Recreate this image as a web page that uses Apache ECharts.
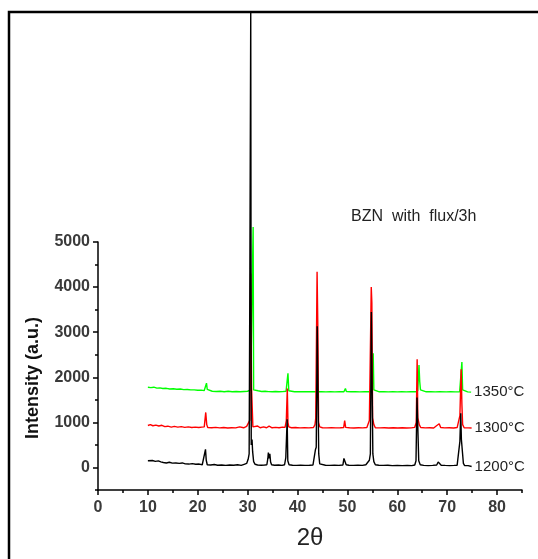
<!DOCTYPE html>
<html>
<head>
<meta charset="utf-8">
<title>BZN XRD</title>
<script src="https://cdn.jsdelivr.net/npm/echarts@6/dist/echarts.min.js"></script>
<style>
  html, body { margin: 0; padding: 0; background: #fff; }
  #chart { width: 538px; height: 559px; }
</style>
</head>
<body>
<div id="chart"></div>
<script>
// XRD patterns, [2theta, intensity]
const xrd1200 = [
  [10.0,150],[10.4,140],[10.9,155],[11.5,135],[12.1,145],[12.6,125],[13.1,110],[13.7,100],[14.3,115],[14.9,95],
  [15.6,100],[16.3,90],[16.9,100],[17.5,80],[18.2,75],[18.9,85],[19.6,70],[20.3,75],[20.9,60],[21.3,90],
  [21.55,400],[21.7,160],[21.9,60],[22.6,55],[23.3,65],[24.0,50],[24.8,55],[25.6,45],[26.4,55],[27.2,50],
  [28.0,60],[28.7,45],[29.3,70],[29.8,90],[30.1,180],[30.3,300],[30.45,4400],[30.62,10100],[30.72,500],[30.88,620],
  [31.0,350],[31.2,130],[31.5,70],[32.0,55],[32.7,50],[33.4,55],[33.85,60],[34.05,200],[34.15,330],[34.3,200],
  [34.45,300],[34.6,120],[34.8,60],[35.4,50],[36.2,55],[36.9,45],[37.4,60],[37.65,220],[37.8,230],[37.92,1070],
  [38.05,150],[38.3,60],[39.0,50],[39.8,45],[40.6,50],[41.5,45],[42.4,50],[43.1,55],[43.4,90],[43.6,400],
  [43.75,450],[43.95,3130],[44.12,3130],[44.25,300],[44.45,80],[44.8,55],[45.6,50],[46.5,45],[47.4,50],[48.3,45],
  [49.1,55],[49.3,200],[49.6,200],[49.75,60],[50.3,50],[51.2,45],[52.1,50],[53.0,45],[53.7,60],[54.1,100],
  [54.4,160],[54.6,300],[54.8,3450],[54.95,3450],[55.1,300],[55.3,130],[55.6,60],[56.3,50],[57.2,45],[58.1,50],
  [59.0,40],[60.0,45],[61.0,40],[62.0,45],[62.9,40],[63.5,55],[63.75,150],[63.95,1550],[64.12,1550],[64.3,150],
  [64.6,60],[65.3,45],[66.2,40],[67.1,45],[67.9,55],[68.2,120],[68.6,120],[68.8,50],[69.6,45],[70.5,40],
  [71.4,45],[72.0,50],[72.3,90],[72.55,580],[72.72,1200],[72.85,620],[73.1,620],[73.25,90],[73.5,40],[74.2,40],
  [74.9,20]
];
const xrd1300 = [
  [10.0,930],[10.5,950],[11.0,925],[11.6,940],[12.2,920],[12.8,935],[13.4,905],[14.0,915],[14.7,895],[15.3,910],
  [16.0,895],[16.7,905],[17.4,890],[18.1,900],[18.8,885],[19.5,895],[20.2,885],[20.8,895],[21.3,900],[21.6,1220],
  [21.8,950],[22.0,885],[22.8,880],[23.6,890],[24.4,878],[25.2,885],[26.0,875],[26.8,882],[27.6,878],[28.4,900],
  [29.2,880],[29.8,910],[30.2,950],[30.45,1050],[30.6,4300],[30.78,1780],[30.95,1780],[31.05,900],[31.4,885],[32.0,920],
  [32.5,880],[33.2,900],[33.8,880],[34.3,915],[34.9,880],[35.6,890],[36.3,880],[37.0,895],[37.5,890],[37.75,1040],
  [37.95,1750],[38.08,1000],[38.25,900],[38.8,880],[39.6,885],[40.5,878],[41.4,882],[42.3,878],[43.2,885],[43.5,950],
  [43.65,1090],[43.92,4340],[44.08,3030],[44.22,1000],[44.45,900],[45.0,880],[45.9,878],[46.8,882],[47.7,878],[48.6,880],
  [49.25,885],[49.45,1040],[49.65,890],[50.4,880],[51.3,876],[52.2,880],[53.1,878],[53.9,885],[54.2,920],[54.4,1040],
  [54.6,1000],[54.78,4000],[54.9,3650],[55.05,1100],[55.3,950],[55.6,880],[56.5,878],[57.4,880],[58.3,876],[59.2,880],
  [60.1,876],[61.0,880],[61.9,876],[62.8,878],[63.5,890],[63.8,1000],[63.98,2400],[64.12,1100],[64.4,950],[64.7,885],
  [65.6,878],[66.5,880],[67.3,876],[67.8,920],[68.1,900],[68.4,970],[68.7,885],[69.5,878],[70.4,880],[71.3,876],
  [72.0,885],[72.3,900],[72.55,1150],[72.8,2180],[72.95,1400],[73.1,950],[73.4,880],[74.2,878],[74.9,875]
];
const xrd1350 = [
  [10.0,1778],[10.6,1770],[11.2,1780],[11.8,1760],[12.4,1765],[13.0,1750],[13.7,1755],[14.4,1740],[15.1,1745],[15.8,1735],
  [16.5,1740],[17.2,1725],[17.9,1730],[18.6,1720],[19.3,1720],[20.0,1712],[20.7,1715],[21.3,1705],[21.6,1720],[21.75,1870],
  [21.9,1730],[22.1,1700],[22.9,1690],[23.7,1685],[24.5,1690],[25.3,1680],[26.1,1690],[26.9,1680],[27.7,1685],[28.5,1678],
  [29.3,1685],[30.0,1690],[30.6,1720],[30.95,1760],[31.1,5330],[31.2,1720],[31.4,1690],[32.1,1700],[32.8,1685],[33.5,1690],
  [34.2,1682],[34.9,1680],[35.6,1685],[36.3,1678],[37.0,1682],[37.7,1690],[37.95,1720],[38.08,2090],[38.25,1700],[38.5,1682],
  [39.4,1680],[40.3,1678],[41.2,1682],[42.1,1678],[43.0,1680],[43.9,1678],[44.8,1680],[45.7,1676],[46.6,1680],[47.5,1676],
  [48.4,1680],[49.3,1678],[49.6,1750],[49.8,1682],[50.7,1678],[51.6,1680],[52.5,1676],[53.4,1680],[54.3,1678],[54.9,1690],
  [55.08,1720],[55.17,2530],[55.3,1720],[55.5,1682],[56.4,1678],[57.3,1680],[58.2,1676],[59.1,1680],[60.0,1676],[60.9,1678],
  [61.8,1676],[62.7,1680],[63.6,1678],[64.1,1700],[64.22,1720],[64.35,2270],[64.5,1900],[64.65,1720],[64.9,1690],[65.8,1678],
  [66.7,1680],[67.6,1676],[68.5,1680],[68.7,1711],[68.9,1680],[69.8,1676],[70.7,1680],[71.6,1676],[72.5,1680],[72.8,1720],
  [72.95,2340],[73.1,1720],[73.4,1680],[74.1,1676],[74.8,1670]
];
const seriesNames = ['1350°C', '1300°C', '1200°C'];
const seriesColors = ['#00ff00', '#ff0000', '#000000'];
const xTicks = [0, 10, 20, 30, 40, 50, 60, 70, 80];
const yTicks = [0, 1000, 2000, 3000, 4000, 5000];

const font = 'Liberation Sans, Arial, sans-serif';
const dom = echarts.init(document.getElementById('chart'), null, { renderer: 'canvas' });

function makeSeries (name, color, data) {
  return {
    name: name,
    type: 'line',
    data: data,
    symbol: 'none',
    clip: false,
    lineStyle: { color: color, width: 1.4 },
    itemStyle: { color: color },
    endLabel: {
      show: true,
      formatter: '{a}',
      distance: 3,
      color: '#222',
      fontFamily: font,
      fontSize: 15
    }
  }
}

const option = {
  animation: false,
  backgroundColor: '#fff',
  title: {
    text: 'BZN  with  flux/3h',
    left: 346,
    top: 204,
    textStyle: { fontFamily: font, fontSize: 16, fontWeight: 'normal', color: '#222' }
  },
  grid: { left: 98, right: 16, top: 242, bottom: 69 },
  xAxis: [
    {
      type: 'value',
      min: 0,
      max: 85,
      interval: 10,
      name: '2θ',
      nameLocation: 'middle',
      nameGap: 36,
      nameTextStyle: { fontFamily: font, fontSize: 24, color: '#222' },
      axisLine: { onZero: false, lineStyle: { color: '#000', width: 1.5 } },
      axisTick: { length: 5, customValues: xTicks, lineStyle: { color: '#000', width: 1.5 } },
      axisLabel: { customValues: xTicks, margin: 10, fontFamily: font, fontSize: 16, fontWeight: 'bold', color: '#3a3a3a' },
      splitLine: { show: false }
    },
    {
      // minor ticks every 5
      type: 'value',
      position: 'bottom',
      min: 0,
      max: 85,
      interval: 5,
      axisLine: { show: false, onZero: false },
      axisTick: { length: 3, lineStyle: { color: '#000', width: 1.5 } },
      axisLabel: { show: false },
      splitLine: { show: false }
    }
  ],
  yAxis: [
    {
      type: 'value',
      min: -500,
      max: 5000,
      interval: 500,
      name: 'Intensity (a.u.)',
      nameLocation: 'middle',
      nameGap: 56,
      nameTextStyle: { fontFamily: font, fontSize: 18, fontWeight: 'bold', color: '#111', padding: [0, 24, 0, 0] },
      axisLine: { show: true, onZero: false, lineStyle: { color: '#000', width: 1.5 } },
      axisTick: { show: true, length: 5, customValues: yTicks, lineStyle: { color: '#000', width: 1.5 } },
      axisLabel: {
        customValues: yTicks,
        margin: 8,
        formatter: v => String(v),
        fontFamily: font,
        fontSize: 16,
        fontWeight: 'bold',
        color: '#3a3a3a'
      },
      splitLine: { show: false }
    },
    {
      // minor ticks every 500
      type: 'value',
      position: 'left',
      min: -500,
      max: 5000,
      interval: 500,
      axisLine: { show: false, onZero: false },
      axisTick: { show: true, length: 3, lineStyle: { color: '#000', width: 1.5 } },
      axisLabel: { show: false },
      splitLine: { show: false }
    }
  ],
  graphic: [
    {
      type: 'rect',
      shape: { x: 9, y: 12, width: 700, height: 700 },
      style: { fill: null, stroke: '#000', lineWidth: 2.5 },
      silent: true,
      z: 100
    }
  ],
  series: [
    makeSeries(seriesNames[0], seriesColors[0], xrd1350),
    makeSeries(seriesNames[1], seriesColors[1], xrd1300),
    makeSeries(seriesNames[2], seriesColors[2], xrd1200)
  ]
}

dom.setOption(option)
window.addEventListener('resize', () => dom.resize())
</script>
</body>
</html>
